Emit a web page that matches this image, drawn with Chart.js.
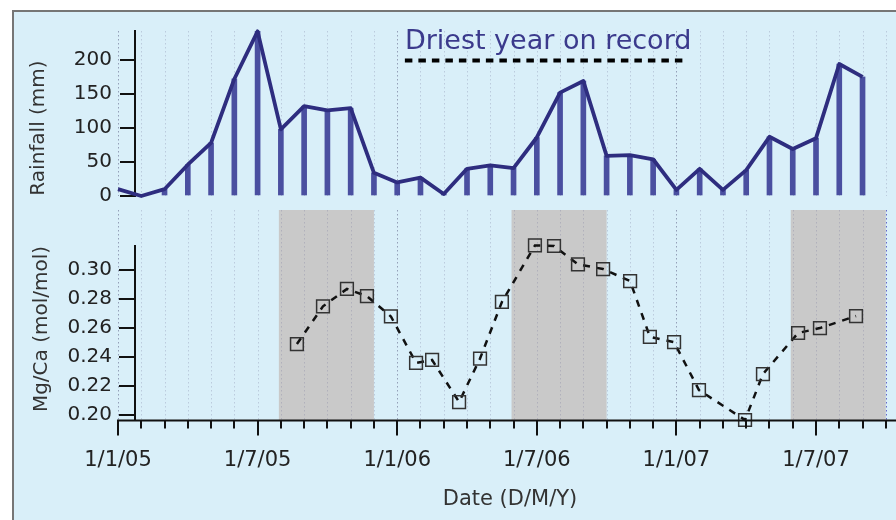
<!DOCTYPE html>
<html><head><meta charset="utf-8">
<script src="https://cdn.jsdelivr.net/npm/chart.js@4.4.1/dist/chart.umd.min.js"></script>
<style>
html,body{margin:0;padding:0;background:#fff;width:896px;height:520px;overflow:hidden;}
#frame{position:absolute;left:12px;top:10px;width:884px;height:510px;background:#d9eff9;border-left:2px solid #767676;border-top:2px solid #767676;box-sizing:border-box;}
canvas{position:absolute;left:0;}
#top{top:0;z-index:2}
#bot{top:200px;z-index:1}
</style></head><body>
<div id="frame"></div>
<canvas id="bot" width="896" height="320"></canvas>
<canvas id="top" width="896" height="216"></canvas>
<script>
// ---- data ----
const rainMonths = ['2005-01','2005-02','2005-03','2005-04','2005-05','2005-06','2005-07','2005-08','2005-09','2005-10','2005-11','2005-12',
                    '2006-01','2006-02','2006-03','2006-04','2006-05','2006-06','2006-07','2006-08','2006-09','2006-10','2006-11','2006-12',
                    '2007-01','2007-02','2007-03','2007-04','2007-05','2007-06','2007-07','2007-08','2007-09'];
const rainfall = [10,0,10,46,78,172,242,98,132,126,129,34,
                  20,27,3,40,45,41,86,152,169,59,60,54,
                  9,40,9,38,87,69,85,194,175];
const rainTicks = [0,50,100,150,200];

// Mg/Ca samples: time in months since 1/1/05
const mgcaMonths = [7.69,8.81,9.84,10.70,11.73,12.81,13.50,14.66,15.56,16.50,17.92,18.74,19.77,20.85,22.01,22.86,23.90,24.97,26.95,27.72,29.23,30.17,31.72];
const mgca = [0.249,0.275,0.287,0.282,0.268,0.236,0.238,0.209,0.239,0.278,0.317,0.3166,0.304,0.3007,0.2924,0.254,0.2503,0.2172,0.1966,0.2283,0.2566,0.260,0.2683];
const mgTicks = [0.20,0.22,0.24,0.26,0.28,0.30];

const xTickMonths = [0,6,12,18,24,30];
const xTickLabels = ['1/1/05','1/7/05','1/1/06','1/7/06','1/1/07','1/7/07'];
const shadedPeriods = [[7,11],[17,21],[29,33]];   // months since 1/1/05
const driestPeriod = [12.33,24.28];               // legend dash extent
const driestLevel = 199;
const driestLabel = 'Driest year on record';

// ---- helpers ----
function monthIndex(s){const [y,m]=s.split('-').map(Number);return (y-2005)*12+(m-1);}
const X_MIN = 0.7307, X_MAX = 33.438;
const FONT = "'DejaVu Sans', sans-serif";

function drawVGrid(chart, y0, y1, accentLast){
  const xs = chart.scales.x, ctx = chart.ctx;
  ctx.save();
  ctx.lineWidth = 1;
  ctx.setLineDash([1.5,2.5]);
  for(let m=0;m<=33;m++){
    const px = Math.round(xs.getPixelForValue(m))+0.5;
    ctx.strokeStyle = (m%12===0) ? 'rgba(80,80,120,0.5)' : ((accentLast && m===33) ? 'rgba(70,70,190,0.8)' : 'rgba(110,110,150,0.28)');
    ctx.beginPath();ctx.moveTo(px,y0);ctx.lineTo(px,y1);ctx.stroke();
  }
  ctx.restore();
}
function vText(ctx, txt, x, y, size, color){
  ctx.save();ctx.translate(x,y);ctx.rotate(-Math.PI/2);
  ctx.font = size+'px '+FONT;ctx.fillStyle=color;ctx.textAlign='center';ctx.textBaseline='middle';
  ctx.fillText(txt,0,0);ctx.restore();
}

const common = {
  responsive:false, animation:false, events:[],
  plugins:{legend:{display:false}, tooltip:{enabled:false}}
};

// ---- top: rainfall ----
const rainPts = rainMonths.map((m,i)=>({x:monthIndex(m), y:rainfall[i]}));
new Chart(document.getElementById('top'), {
  data:{datasets:[
    {type:'line', data:rainPts, borderColor:'#2e2d7f', borderWidth:3.8, pointRadius:0, tension:0, clip:false, order:0, borderJoinStyle:'round'},
    {type:'line', data:[{x:driestPeriod[0],y:driestLevel},{x:driestPeriod[1],y:driestLevel}], borderColor:'#000', borderWidth:4, borderDash:[7.5,6], borderCapStyle:'butt', pointRadius:0, clip:false, order:0},
    {type:'bar', data:rainPts, backgroundColor:'#4a4fa0', barThickness:5, order:1}
  ]},
  options:Object.assign({}, common, {
    layout:{autoPadding:false, padding:{top:31,bottom:10,left:0,right:0}},
    scales:{
      x:{type:'linear', display:false, offset:false, min:X_MIN, max:X_MAX},
      y:{min:0, max:242.5,
         afterFit(s){s.width=135;},
         afterBuildTicks(s){s.ticks=rainTicks.map(v=>({value:v}));},
         grid:{drawOnChartArea:false, tickLength:15, color:'#111', lineWidth:2},
         border:{color:'#111', width:2},
         ticks:{color:'#222', font:{family:FONT, size:20}, padding:8}}
    }
  }),
  plugins:[{
    id:'deco',
    beforeDatasetsDraw(chart){ drawVGrid(chart, chart.chartArea.top, chart.chartArea.bottom, false); },
    afterDraw(chart){
      const ctx=chart.ctx, xs=chart.scales.x;
      vText(ctx,'Rainfall (mm)',39,128,20,'#333');
      ctx.save();
      ctx.font='27px '+FONT; ctx.fillStyle='#3b3a8c'; ctx.textAlign='left'; ctx.textBaseline='alphabetic';
      ctx.fillText(driestLabel, xs.getPixelForValue(driestPeriod[0]), 49);
      ctx.restore();
    }
  }]
});

// ---- bottom: Mg/Ca ----
new Chart(document.getElementById('bot'), {
  data:{datasets:[
    {type:'line', data:mgcaMonths.map((m,i)=>({x:m,y:mgca[i]})), borderColor:'#111', borderWidth:2.5, borderDash:[7,7],
     pointStyle:'rect', pointRadius:9, pointBorderColor:'#333', pointBorderWidth:1.5, pointBackgroundColor:'rgba(0,0,0,0)', tension:0, clip:false}
  ]},
  options:Object.assign({}, common, {
    layout:{autoPadding:false, padding:{top:46,bottom:100,left:0,right:0}},
    scales:{
      x:{type:'linear', display:false, offset:false, min:X_MIN, max:X_MAX},
      y:{min:0.1966, max:0.3166,
         afterFit(s){s.width=135;},
         afterBuildTicks(s){s.ticks=mgTicks.map(v=>({value:v}));},
         grid:{drawOnChartArea:false, tickLength:16, color:'#111', lineWidth:2},
         border:{color:'#111', width:2},
         ticks:{color:'#222', font:{family:FONT, size:20}, padding:7, callback:v=>Number(v).toFixed(2)}}
    }
  }),
  plugins:[{
    id:'deco2',
    beforeDatasetsDraw(chart){
      const ctx=chart.ctx, xs=chart.scales.x, ca=chart.chartArea;
      ctx.save(); ctx.fillStyle='#c9c9c9';
      shadedPeriods.forEach(([a,b])=>{
        const x0=xs.getPixelForValue(a)-2, x1=xs.getPixelForValue(b);
        ctx.fillRect(x0,10,x1-x0,ca.bottom-10);
      });
      ctx.restore();
      drawVGrid(chart, 10, ca.bottom, true);
    },
    afterDraw(chart){
      const ctx=chart.ctx, xs=chart.scales.x, ca=chart.chartArea;
      const y0=ca.bottom+0.5;
      ctx.save();
      ctx.strokeStyle='#111'; ctx.lineWidth=2;
      ctx.beginPath(); ctx.moveTo(xs.getPixelForValue(0)-1,y0); ctx.lineTo(chart.width,y0); ctx.stroke();
      for(let m=0;m<=33;m++){
        const px=Math.round(xs.getPixelForValue(m));
        const len = xTickMonths.includes(m) ? 15 : 8;
        ctx.beginPath(); ctx.moveTo(px,y0); ctx.lineTo(px,y0+len); ctx.stroke();
      }
      ctx.fillStyle='#222'; ctx.font='21px '+FONT; ctx.textAlign='center'; ctx.textBaseline='middle';
      xTickMonths.forEach((m,i)=>ctx.fillText(xTickLabels[i], xs.getPixelForValue(m), y0+40));
      ctx.fillStyle='#333'; ctx.font='21px '+FONT;
      ctx.fillText('Date (D/M/Y)', 510, y0+79);
      ctx.restore();
      vText(ctx,'Mg/Ca (mol/mol)',42,129,20,'#333');
    }
  }]
});
</script>
</body></html>
